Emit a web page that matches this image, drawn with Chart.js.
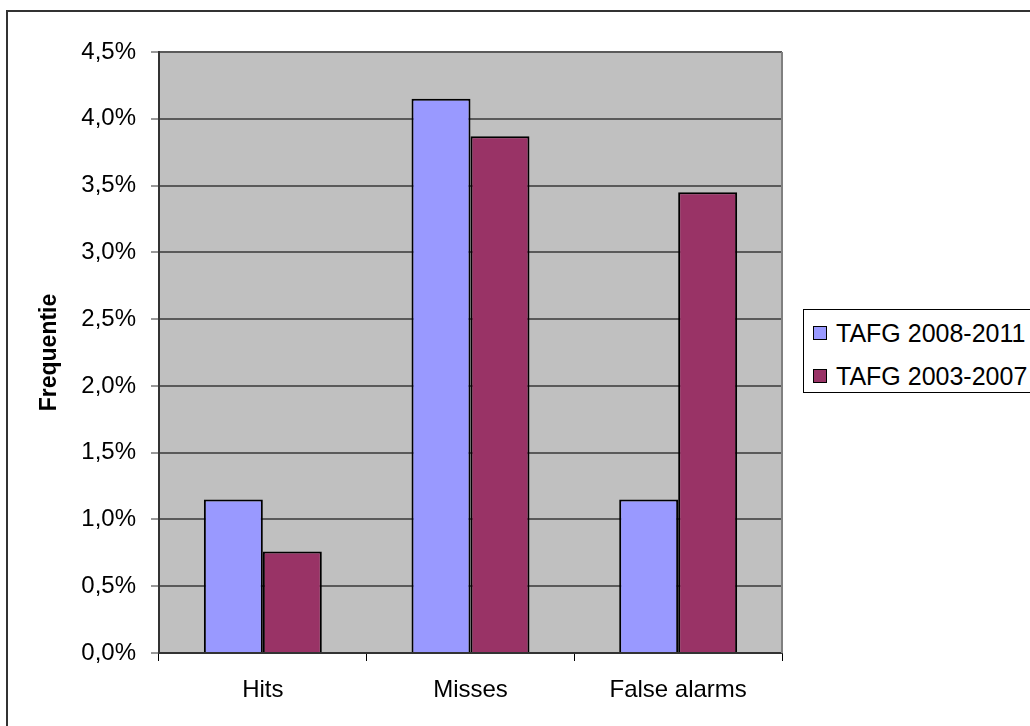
<!DOCTYPE html>
<html>
<head>
<meta charset="utf-8">
<script src="https://cdn.jsdelivr.net/npm/chart.js@4.4.1/dist/chart.umd.min.js"></script>
<style>
  html, body { margin: 0; padding: 0; background: #fff; overflow: hidden; }
  #wrap { position: relative; width: 1030px; height: 726px; overflow: hidden; }
  #frame { position: absolute; left: 6px; top: 10px; width: 1100px; height: 800px; border: 2px solid #333; box-sizing: border-box; pointer-events: none; }
  canvas { position: absolute; left: 0; top: 0; }
  #legend { position: absolute; left: 803px; top: 309px; width: 300px; height: 84px; border: 1px solid #000; box-sizing: border-box; background: #fff;
            font-family: "Liberation Sans", Arial, sans-serif; font-size: 25px; color: #000; }
  .item { position: absolute; left: 9px; height: 30px; line-height: 30px; white-space: nowrap; }
  .sw { display: inline-block; width: 12px; height: 12px; border: 1px solid #000; vertical-align: middle; margin-right: 9px; position: relative; top: -2px; }
</style>
</head>
<body>
<div id="wrap">
  <div id="frame"></div>
  <canvas id="c" width="1030" height="726"></canvas>
  <div id="legend"></div>
</div>
<script>
const categories = ["Hits", "Misses", "False alarms"];
const seriesNames = ["TAFG 2008-2011", "TAFG 2003-2007"];
const tafg2008_2011 = [1.15, 4.15, 1.15];
const tafg2003_2007 = [0.76, 3.87, 3.45];
const seriesColors = ["#9999FF", "#993366"];
const yAxisTitle = "Frequentie";

const FONT = '"Liberation Sans", Arial, sans-serif';

const plotBg = {
  id: 'plotBg',
  beforeDraw(chart) {
    const {ctx, chartArea: a} = chart;
    ctx.save();
    ctx.fillStyle = '#C0C0C0';
    ctx.fillRect(a.left, a.top, a.right - a.left, a.bottom - a.top);
    ctx.restore();
  },
  afterDraw(chart) {
    const {ctx, chartArea: a} = chart;
    ctx.save();
    ctx.strokeStyle = '#808080';
    ctx.lineWidth = 2;
    ctx.beginPath();
    ctx.moveTo(a.right, a.top);
    ctx.lineTo(a.right, a.bottom);
    ctx.stroke();
    ctx.restore();
  }
};

new Chart(document.getElementById('c'), {
  type: 'bar',
  data: {
    labels: categories,
    datasets: [
      { label: seriesNames[0], data: tafg2008_2011, backgroundColor: seriesColors[0], borderColor: '#000', borderWidth: 2 },
      { label: seriesNames[1], data: tafg2003_2007, backgroundColor: seriesColors[1], borderColor: '#000', borderWidth: 2 }
    ]
  },
  options: {
    responsive: false,
    animation: false,
    devicePixelRatio: 1,
    layout: { padding: { left: 0, top: 52, right: 248, bottom: 0 } },
    datasets: { bar: { categoryPercentage: 0.568, barPercentage: 1.0 } },
    plugins: { legend: { display: false }, tooltip: { enabled: false } },
    scales: {
      x: {
        grid: { display: true, offset: true, drawOnChartArea: false, drawTicks: true, tickLength: 8, color: '#000', lineWidth: 1 },
        border: { display: true, color: '#333', width: 2 },
        ticks: { color: '#000', font: { family: FONT, size: 24 }, padding: 15, maxRotation: 0 },
        afterFit(s) { s.height = 73; }
      },
      y: {
        min: 0, max: 4.5,
        grid: { color: '#5a5a5a', lineWidth: 2, drawTicks: true, tickLength: 8, tickColor: '#333', tickWidth: 1 },
        border: { display: true, color: '#333', width: 2 },
        ticks: { stepSize: 0.5, color: '#000', font: { family: FONT, size: 24 }, padding: 15,
                 callback: v => v.toFixed(1).replace('.', ',') + '%' },
        title: { display: true, text: yAxisTitle, color: '#000', font: { family: FONT, size: 23, weight: 'bold' }, padding: { top: 36, bottom: 0 } },
        afterFit(s) { s.width = 159; }
      }
    }
  },
  plugins: [plotBg]
});

const leg = document.getElementById('legend');
seriesNames.forEach((n, i) => {
  const d = document.createElement('div');
  d.className = 'item';
  d.style.top = (i === 0 ? 8 : 51) + 'px';
  const sw = document.createElement('span');
  sw.className = 'sw';
  sw.style.background = seriesColors[i];
  d.appendChild(sw);
  d.appendChild(document.createTextNode(n));
  leg.appendChild(d);
});
</script>
</body>
</html>
